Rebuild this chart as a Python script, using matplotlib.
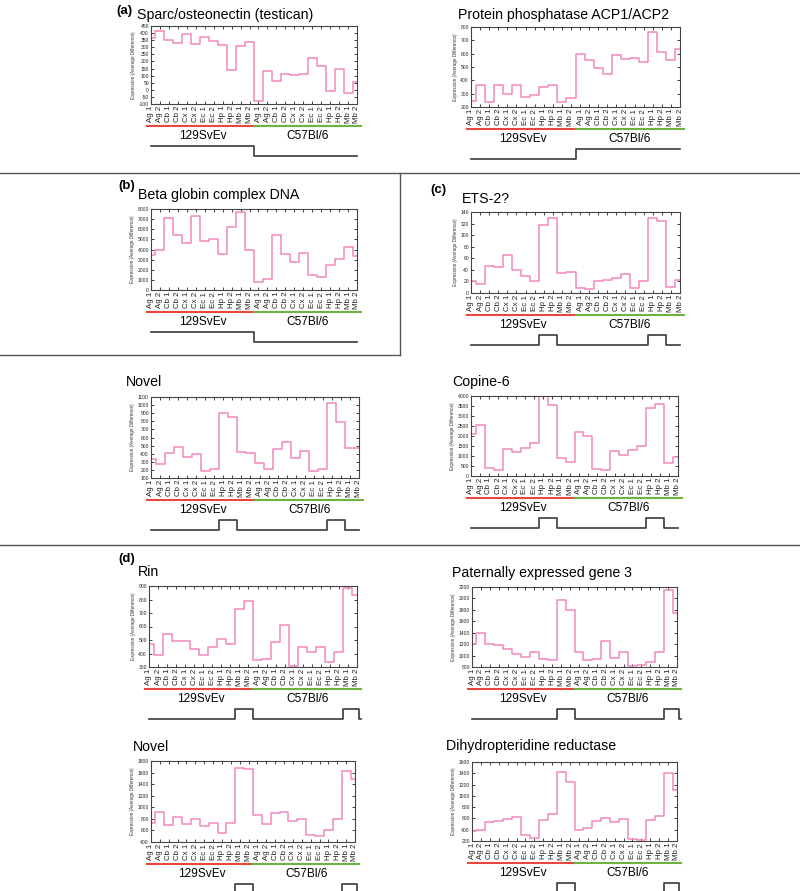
import matplotlib
matplotlib.use('Agg')
import matplotlib.pyplot as plt
import numpy as np
from matplotlib.transforms import blended_transform_factory
from matplotlib.lines import Line2D

W, H = 800, 891
plt.rcParams['font.family'] = ['Liberation Sans', 'DejaVu Sans']

# ---------------- data ----------------
categories = ['Ag 1', 'Ag 2', 'Cb 1', 'Cb 2', 'Cx 1', 'Cx 2',
              'Ec 1', 'Ec 2', 'Hp 1', 'Hp 2', 'Mb 1', 'Mb 2']
tick_labels = categories + categories
strains = ['129SvEv', 'C57Bl/6']

sparc = [365, 415, 350, 328, 393, 325, 373, 343, 318, 143, 310, 340,
         -78, 130, 60, 110, 108, 113, 225, 170, -5, 150, -20, 55]
acp = [242, 362, 237, 364, 297, 362, 272, 292, 350, 367, 237, 270,
       595, 552, 495, 445, 590, 558, 565, 535, 760, 613, 550, 635]
betaglobin = [3500, 3930, 7070, 5400, 4670, 7330, 4830, 5070, 3570, 6270, 7670, 3930,
              770, 1070, 5400, 3600, 2800, 3670, 1530, 1300, 2430, 3070, 4230, 3330]
ets2 = [21, 15, 46.5, 45, 65, 39.5, 29, 20, 117, 129, 34, 35.5,
        9.3, 7.6, 21, 22.7, 26.7, 33, 8, 20, 130, 125, 11, 22.7]
novel1 = [337, 278, 403, 486, 361, 399, 191, 212, 897, 855, 420, 403,
          287, 216, 461, 548, 341, 428, 183, 212, 1021, 789, 473, 473]
copine6 = [2090, 2571, 379, 296, 1375, 1193, 1409, 1674, 4050, 3568, 877, 678,
           2223, 2007, 346, 279, 1226, 1027, 1276, 1492, 3419, 3618, 628, 927]
rin = [472, 389, 541, 495, 495, 433, 389, 448, 507, 470, 728, 792,
       355, 359, 485, 608, 305, 445, 411, 450, 335, 411, 887, 831]
peg3 = [1200, 1400, 1206, 1188, 1112, 1035, 982, 1071, 935, 929, 1965, 1800,
        1071, 929, 947, 1247, 959, 1071, 824, 841, 888, 1059, 2147, 1741]
novel2 = [736, 910, 696, 835, 719, 806, 673, 731, 557, 731, 1684, 1661,
          875, 719, 893, 910, 765, 806, 528, 511, 604, 789, 1621, 1482]
dhpr = [379, 402, 532, 562, 597, 627, 308, 261, 568, 686, 1423, 1246,
        391, 432, 562, 609, 538, 585, 231, 225, 579, 644, 1405, 1110]

# model patterns (1 = high, 0 = low)
pat_high_low = [1, 1, 1, 1, 1, 1, 1, 1, 1, 1, 1, 1, 0, 0, 0, 0, 0, 0, 0, 0, 0, 0, 0, 0]
pat_low_high = [0, 0, 0, 0, 0, 0, 0, 0, 0, 0, 0, 0, 1, 1, 1, 1, 1, 1, 1, 1, 1, 1, 1, 1]
pat_hp = [0, 0, 0, 0, 0, 0, 0, 0, 1, 1, 0, 0, 0, 0, 0, 0, 0, 0, 0, 0, 1, 1, 0, 0]
pat_mb = [0, 0, 0, 0, 0, 0, 0, 0, 0, 0, 1, 1, 0, 0, 0, 0, 0, 0, 0, 0, 0, 0, 1, 1]

yt_sparc = [-100, -50, 0, 50, 100, 150, 200, 250, 300, 350, 400, 450]
yt_acp = [200, 300, 400, 500, 600, 700, 800]
yt_beta = [0, 1000, 2000, 3000, 4000, 5000, 6000, 7000, 8000]
yt_ets = [0, 20, 40, 60, 80, 100, 120, 140]
yt_novel1 = [100, 200, 300, 400, 500, 600, 700, 800, 900, 1000, 1100]
yt_copine = [0, 500, 1000, 1500, 2000, 2500, 3000, 3500, 4000]
yt_rin = [300, 400, 500, 600, 700, 800, 900]
yt_peg3 = [800, 1000, 1200, 1400, 1600, 1800, 2000, 2200]
yt_novel2 = [400, 600, 800, 1000, 1200, 1400, 1600, 1800]
yt_dhpr = [200, 400, 600, 800, 1000, 1200, 1400, 1600]

PINK = '#f288bd'
RED = '#e8473f'
GREEN = '#6db33f'
DARK = '#3a3a3a'

fig = plt.figure(figsize=(W / 100, H / 100), dpi=100)


def fy(ypx):
    return 1 - ypx / H


def panel(box, title, title_pos, vals, yticks, pattern, tail):
    l, t, r, b = box
    ax = fig.add_axes([l / W, 1 - b / H, (r - l) / W, (b - t) / H])
    x = np.arange(len(vals))
    ax.plot(x, vals, drawstyle='steps-mid', color=PINK, lw=1.1)
    ax.set_xlim(0, 23)
    ax.set_ylim(yticks[0], yticks[-1])
    ax.set_xticks(x)
    ax.set_xticklabels(tick_labels, rotation=90, fontsize=5.7)
    ax.set_yticks(yticks)
    ax.set_yticklabels([str(v) for v in yticks], fontsize=3.6)
    ax.tick_params(direction='in', top=True, right=True, length=2.5,
                   width=0.6, pad=1.5, colors='#222')
    ax.tick_params(axis='x', pad=1.2)
    ax.set_ylabel('Expression (Average Difference)', fontsize=3.3,
                  labelpad=2, color='#333')
    for s in ax.spines.values():
        s.set_linewidth(0.8)
        s.set_color('#444')
    tr = blended_transform_factory(ax.transData, fig.transFigure)
    yr = fy(b + 22)
    ax.plot([-0.4, 11.5], [yr, yr], transform=tr, color=RED, lw=1.5, clip_on=False)
    ax.plot([11.5, 23.4], [yr, yr], transform=tr, color=GREEN, lw=1.5, clip_on=False)
    ax.text(5.75, fy(b + 32), strains[0], transform=tr, ha='center',
            va='center', fontsize=8.6)
    ax.text(17.5, fy(b + 32), strains[1], transform=tr, ha='center',
            va='center', fontsize=8.6)
    px = list(x.astype(float))
    pv = list(pattern)
    if tail:
        px.append(23.4)
        pv.append(0)
    py = [fy(b + 52 - 10 * p) for p in pv]
    ax.plot(px, py, transform=tr, drawstyle='steps-mid', color=DARK,
            lw=1.2, clip_on=False)
    fig.text(title_pos[0] / W, fy(title_pos[1]), title, fontsize=10.2,
             va='baseline', ha='left')
    return ax


panel((151, 26, 357, 104), 'Sparc/osteonectin (testican)', (137, 19),
      sparc, yt_sparc, pat_high_low, False)
panel((471, 27, 680, 107), 'Protein phosphatase ACP1/ACP2', (458, 19),
      acp, yt_acp, pat_low_high, False)
panel((151, 209, 357, 290), 'Beta globin complex DNA', (138, 199),
      betaglobin, yt_beta, pat_high_low, False)
panel((471, 212, 680, 293), 'ETS-2?', (462, 203),
      ets2, yt_ets, pat_hp, False)
panel((151, 397, 359, 478), 'Novel', (126, 386),
      novel1, yt_novel1, pat_hp, False)
panel((471, 396, 678, 476), 'Copine-6', (452, 386),
      copine6, yt_copine, pat_hp, False)
panel((149, 586, 357, 667), 'Rin', (138, 576),
      rin, yt_rin, pat_mb, True)
panel((472, 587, 677, 667), 'Paternally expressed gene 3', (452, 577),
      peg3, yt_peg3, pat_mb, True)
panel((151, 761, 355, 842), 'Novel', (133, 751),
      novel2, yt_novel2, pat_mb, True)
panel((472, 762, 677, 841), 'Dihydropteridine reductase', (446, 750),
      dhpr, yt_dhpr, pat_mb, True)

# panel letters
for lab, xp, yp in [('(a)', 116, 14), ('(b)', 118, 189), ('(c)', 430, 193), ('(d)', 118, 562)]:
    fig.text(xp / W, fy(yp), lab, fontsize=9.5, fontweight='bold', va='baseline')

# separators
def hline(x0, x1, y):
    fig.add_artist(Line2D([x0 / W, x1 / W], [fy(y), fy(y)], color='#555', lw=1))

def vline(x, y0, y1):
    fig.add_artist(Line2D([x / W, x / W], [fy(y0), fy(y1)], color='#555', lw=1))

hline(0, 800, 173)
vline(400, 173, 355)
hline(0, 400, 355)
hline(0, 800, 545)

fig.savefig('out.png', dpi=100)
